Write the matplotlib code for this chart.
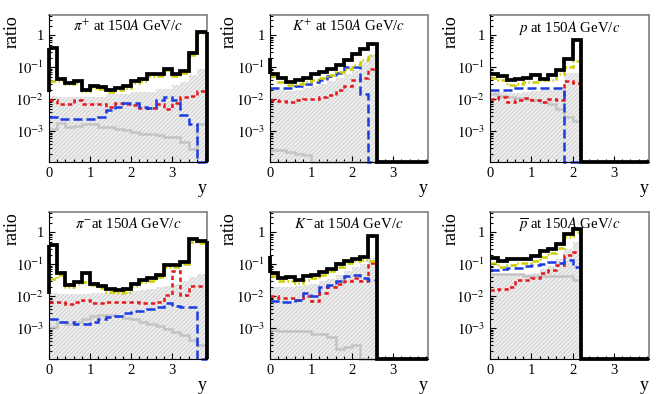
import numpy as np
import matplotlib
matplotlib.use("Agg")
import matplotlib.pyplot as plt
from matplotlib.ticker import FixedLocator, FixedFormatter, LogLocator, MultipleLocator, NullFormatter

plt.rcParams['font.family'] = ['Liberation Serif', 'DejaVu Serif']
plt.rcParams['mathtext.fontset'] = 'stix'
plt.rcParams['hatch.linewidth'] = 0.5

# ---------------- data ----------------
edges = [0.0, 0.2, 0.4, 0.6, 0.8, 1.0, 1.2, 1.4, 1.6, 1.8, 2.0, 2.2, 2.4, 2.6,
         2.8, 3.0, 3.2, 3.4, 3.6, 3.85]

titles = [r'$\pi^{+}$ at 150$A$ GeV/$c$', r'$K^{+}$ at 150$A$ GeV/$c$', r'$p$ at 150$A$ GeV/$c$',
          r'$\pi^{-}$at 150$A$ GeV/$c$', r'$K^{-}$at 150$A$ GeV/$c$', r'$\overline{p}$ at 150$A$ GeV/$c$']

ytick_vals = [1e-3, 1e-2, 1e-1, 1]
ytick_labels = [r'$10^{-3}$', r'$10^{-2}$', r'$10^{-1}$', '1']
xtick_vals = [0, 1, 2, 3]
xtick_labels = ['0', '1', '2', '3']

# value where the black total curve starts at y = 0 (left edge)
total_start = [0.017, 0.19, 0.063, 0.012, 0.18, 0.16]

# pi+
pip_total = [0.40, 0.042, 0.033, 0.036, 0.020, 0.026, 0.024, 0.019, 0.022, 0.026, 0.036, 0.042,
             0.06, 0.06, 0.09, 0.06, 0.075, 0.27, 1.25]
pip_yellow = [0.038, 0.038, 0.029, 0.032, 0.018, 0.022, 0.021, 0.017, 0.019, 0.023, 0.032, 0.038,
              0.054, 0.054, 0.082, 0.054, 0.068, 0.25, 1.15]
pip_red = [0.0098, 0.007, 0.007, 0.0093, 0.007, 0.007, 0.007, 0.0057, 0.0074, 0.007, 0.0065, 0.0055,
           0.0055, 0.007, 0.005, 0.0077, 0.012, 0.013, 0.018]
pip_blue = [0.0028, 0.0025, 0.0025, 0.0025, 0.0025, 0.0025, 0.0028, 0.0045, 0.0057, 0.0074, 0.0077,
            0.0057, 0.0055, 0.0093, 0.012, 0.0093, 0.0032, 0.0017, 0.0]
pip_gray = [0.0012, 0.0018, 0.0014, 0.0015, 0.0017, 0.0017, 0.0014, 0.0014, 0.0012, 0.0011, 0.00095,
            0.00085, 0.0008, 0.00075, 0.00067, 0.00067, 0.00046, 0.00029, 0.0017]
pip_band = [0.013, 0.012, 0.012, 0.012, 0.012, 0.012, 0.012, 0.015, 0.015, 0.015, 0.017, 0.017,
            0.017, 0.021, 0.021, 0.027, 0.035, 0.056, 0.09]

# K+
kp_total = [0.063, 0.047, 0.035, 0.039, 0.047, 0.063, 0.071, 0.09, 0.12, 0.166, 0.255, 0.38, 0.55,
            0, 0, 0, 0, 0, 0]
kp_yellow = [0.052, 0.035, 0.027, 0.031, 0.035, 0.039, 0.047, 0.056, 0.071, 0.09, 0.115, 0.166, 0.25]
kp_red = [0.0098, 0.009, 0.0083, 0.0093, 0.0105, 0.0105, 0.012, 0.014, 0.019, 0.026, 0.039, 0.047, 0.09]
kp_blue = [0.023, 0.023, 0.022, 0.026, 0.029, 0.035, 0.039, 0.052, 0.066, 0.1, 0.1, 0.015, 0.0]
kp_gray = [0.00026, 0.00026, 0.00023, 0.0002, 0.00018, 0.00011, 0.0, 0.0, 0.0, 0.0, 0.0, 0.0, 0.0]
kp_band = [0.02, 0.019, 0.018, 0.02, 0.022, 0.026, 0.03, 0.036, 0.045, 0.06, 0.08, 0.15, 0.25]

# p
p_total = [0.063, 0.052, 0.041, 0.044, 0.047, 0.056, 0.044, 0.056, 0.08, 0.187, 0.70,
           0, 0, 0, 0, 0, 0, 0, 0]
p_yellow = [0.047, 0.039, 0.027, 0.031, 0.035, 0.035, 0.039, 0.041, 0.06, 0.1, 0.158]
p_red = [0.0105, 0.012, 0.0083, 0.0093, 0.011, 0.0093, 0.0083, 0.0105, 0.0093, 0.037, 0.032]
p_blue = [0.019, 0.019, 0.02, 0.022, 0.022, 0.022, 0.022, 0.022, 0.023, 0.0, 0.0]
p_gray = [0.015, 0.013, 0.012, 0.011, 0.0105, 0.0093, 0.0083, 0.007, 0.005, 0.0028, 0.0021]
p_band = [0.018, 0.017, 0.016, 0.016, 0.017, 0.018, 0.019, 0.02, 0.025, 0.065, 0.065]

# pi-
pim_total = [0.40, 0.052, 0.023, 0.027, 0.052, 0.025, 0.021, 0.0165, 0.0155, 0.0165, 0.025, 0.032,
             0.036, 0.045, 0.094, 0.094, 0.12, 0.62, 0.53]
pim_yellow = [0.035, 0.045, 0.02, 0.024, 0.028, 0.022, 0.018, 0.014, 0.013, 0.014, 0.021, 0.027,
              0.031, 0.04, 0.085, 0.085, 0.1, 0.5, 0.45]
pim_red = [0.0066, 0.0068, 0.0058, 0.0068, 0.0075, 0.0063, 0.0063, 0.0068, 0.0068, 0.0068, 0.0068,
           0.0063, 0.0063, 0.0068, 0.011, 0.06, 0.011, 0.021, 0.021]
pim_blue = [0.0019, 0.0016, 0.0016, 0.0014, 0.0014, 0.0016, 0.0019, 0.0022, 0.0025, 0.003, 0.0036,
            0.0036, 0.004, 0.0047, 0.0063, 0.005, 0.0047, 0.0047, 0.0]
pim_gray = [0.0011, 0.0016, 0.0014, 0.0016, 0.002, 0.0025, 0.0026, 0.0026, 0.0024, 0.0021, 0.0019,
            0.0016, 0.0014, 0.0012, 0.00096, 0.00076, 0.0006, 0.00042, 0.0003]
pim_band = [0.013, 0.012, 0.012, 0.012, 0.012, 0.013, 0.013, 0.013, 0.014, 0.014, 0.015, 0.016,
            0.017, 0.019, 0.021, 0.025, 0.03, 0.04, 0.05]

# K-
km_total = [0.055, 0.038, 0.04, 0.032, 0.043, 0.045, 0.057, 0.073, 0.1, 0.128, 0.15, 0.175, 0.78,
            0, 0, 0, 0, 0, 0]
km_yellow = [0.043, 0.03, 0.03, 0.026, 0.032, 0.038, 0.045, 0.06, 0.085, 0.11, 0.128, 0.137, 0.13]
km_red = [0.01, 0.0089, 0.0089, 0.0075, 0.0105, 0.0069, 0.0127, 0.02, 0.025, 0.03, 0.038, 0.03, 0.113]
km_blue = [0.0069, 0.0065, 0.0065, 0.0079, 0.0127, 0.01, 0.02, 0.023, 0.03, 0.043, 0.045, 0.038, 0.032]
km_gray = [0.00089, 0.0008, 0.0008, 0.0008, 0.0008, 0.00067, 0.00067, 0.00055, 0.00023, 0.00026,
           0.0003, 0.0, 0.0]
km_band = [0.02, 0.02, 0.02, 0.021, 0.022, 0.025, 0.03, 0.035, 0.045, 0.06, 0.08, 0.1, 0.16]

# anti-p
pb_total = [0.16, 0.126, 0.145, 0.15, 0.15, 0.185, 0.26, 0.31, 0.42, 0.87, 1.24,
            0, 0, 0, 0, 0, 0, 0, 0]
pb_yellow = [0.106, 0.083, 0.094, 0.106, 0.11, 0.126, 0.17, 0.22, 0.33, 0.73, 1.0]
pb_red = [0.0155, 0.0175, 0.0195, 0.032, 0.032, 0.036, 0.055, 0.066, 0.094, 0.2, 0.235]
pb_blue = [0.066, 0.07, 0.074, 0.078, 0.09, 0.094, 0.1, 0.114, 0.106, 0.135, 0.083]
pb_gray = [0.048, 0.048, 0.048, 0.048, 0.044, 0.044, 0.044, 0.044, 0.044, 0.044, 0.032]
pb_band = [0.05, 0.05, 0.05, 0.05, 0.05, 0.055, 0.07, 0.09, 0.15, 0.3, 0.5]

panels = [
    (pip_total, pip_yellow, pip_red, pip_blue, pip_gray, pip_band),
    (kp_total, kp_yellow, kp_red, kp_blue, kp_gray, kp_band),
    (p_total, p_yellow, p_red, p_blue, p_gray, p_band),
    (pim_total, pim_yellow, pim_red, pim_blue, pim_gray, pim_band),
    (km_total, km_yellow, km_red, km_blue, km_gray, km_band),
    (pb_total, pb_yellow, pb_red, pb_blue, pb_gray, pb_band),
]

# ---------------- style ----------------
YMIN, YMAX = 1.1e-4, 4.3
XMIN, XMAX = 0.0, 3.85
C_YEL = '#cccc00'
C_RED = '#e3191c'
C_BLUE = '#1c3ce0'
C_GRAY = '#c4c4c4'

fig = plt.figure(figsize=(6.64, 3.94), dpi=100)
W, H = 664.0, 394.0
col_left = [49, 270, 490]
col_w = [158, 158, 159]
row_top = [15, 212]
ax_h = 147
ylabel_x = [-0.177, -0.205, -0.19]

edges = np.asarray(edges)


def clip(v):
    return np.clip(np.asarray(v, dtype=float), YMIN, None)


for k, (tot, yel, red, blu, gry, band) in enumerate(panels):
    r, c = divmod(k, 3)
    ax = fig.add_axes([col_left[c] / W, (H - row_top[r] - ax_h) / H, col_w[c] / W, ax_h / H])
    ax.set_yscale('log')
    ax.set_xlim(XMIN, XMAX)
    ax.set_ylim(YMIN, YMAX)

    n = len(band)
    ax.stairs(clip(band), edges[:n + 1], baseline=1e-6, fill=True, facecolor='#eeeeee',
              edgecolor='#c6c6c6', hatch='////////', linewidth=0, zorder=1)
    ax.stairs(clip(gry), edges[:len(gry) + 1], baseline=None, color=C_GRAY, lw=1.8,
              zorder=2, clip_on=False)
    ax.stairs(clip(red), edges[:len(red) + 1], baseline=None, color=C_RED, lw=1.8,
              linestyle=(0, (1.7, 1.3)), zorder=3, clip_on=False)
    ax.stairs(clip(blu), edges[:len(blu) + 1], baseline=None, color=C_BLUE, lw=1.8,
              linestyle=(0, (3.6, 1.6)), zorder=4, clip_on=False)
    ax.stairs(clip(yel), edges[:len(yel) + 1], baseline=None, color=C_YEL, lw=1.8,
              linestyle=(0, (2.6, 1.0, 0.6, 1.0)), zorder=5, clip_on=False)
    tv = clip(tot)
    ax.stairs(tv, edges, baseline=None, color='black', lw=2.7, zorder=6, clip_on=False)
    ax.vlines(edges[-1], YMIN, tv[-1], color='black', lw=2.7, zorder=6, clip_on=False)
    ax.vlines(edges[0], min(total_start[k], tv[0]), max(total_start[k], tv[0]),
              color='black', lw=2.7, zorder=6, clip_on=False)

    ax.yaxis.set_major_locator(FixedLocator(ytick_vals))
    ax.yaxis.set_major_formatter(FixedFormatter(ytick_labels))
    ax.yaxis.set_minor_locator(LogLocator(base=10, subs=np.arange(2, 10) * 1.0, numticks=20))
    ax.yaxis.set_minor_formatter(NullFormatter())
    ax.xaxis.set_major_locator(FixedLocator(xtick_vals))
    ax.xaxis.set_major_formatter(FixedFormatter(xtick_labels))
    ax.xaxis.set_minor_locator(MultipleLocator(0.2))

    ax.tick_params(which='both', direction='in', top=False, right=False, labelsize=10.5,
                   width=0.8, color='black')
    ax.tick_params(which='major', length=4, pad=3.5)
    ax.tick_params(which='minor', length=2)

    for s in ('top', 'right'):
        ax.spines[s].set_color('#8a8a8a')
        ax.spines[s].set_linewidth(1.3)
    for s in ('left', 'bottom'):
        ax.spines[s].set_color('black')
        ax.spines[s].set_linewidth(0.8)
        ax.spines[s].set_zorder(7)

    ax.text(0.5, 0.975, titles[k], transform=ax.transAxes, ha='center', va='top',
            fontsize=10.7, zorder=10)
    ax.set_ylabel('ratio', loc='top', fontsize=13)
    ax.yaxis.set_label_coords(ylabel_x[c], 1.0)
    ax.set_xlabel('y', loc='right', fontsize=13, labelpad=0)

fig.savefig('out.png', dpi=100)
